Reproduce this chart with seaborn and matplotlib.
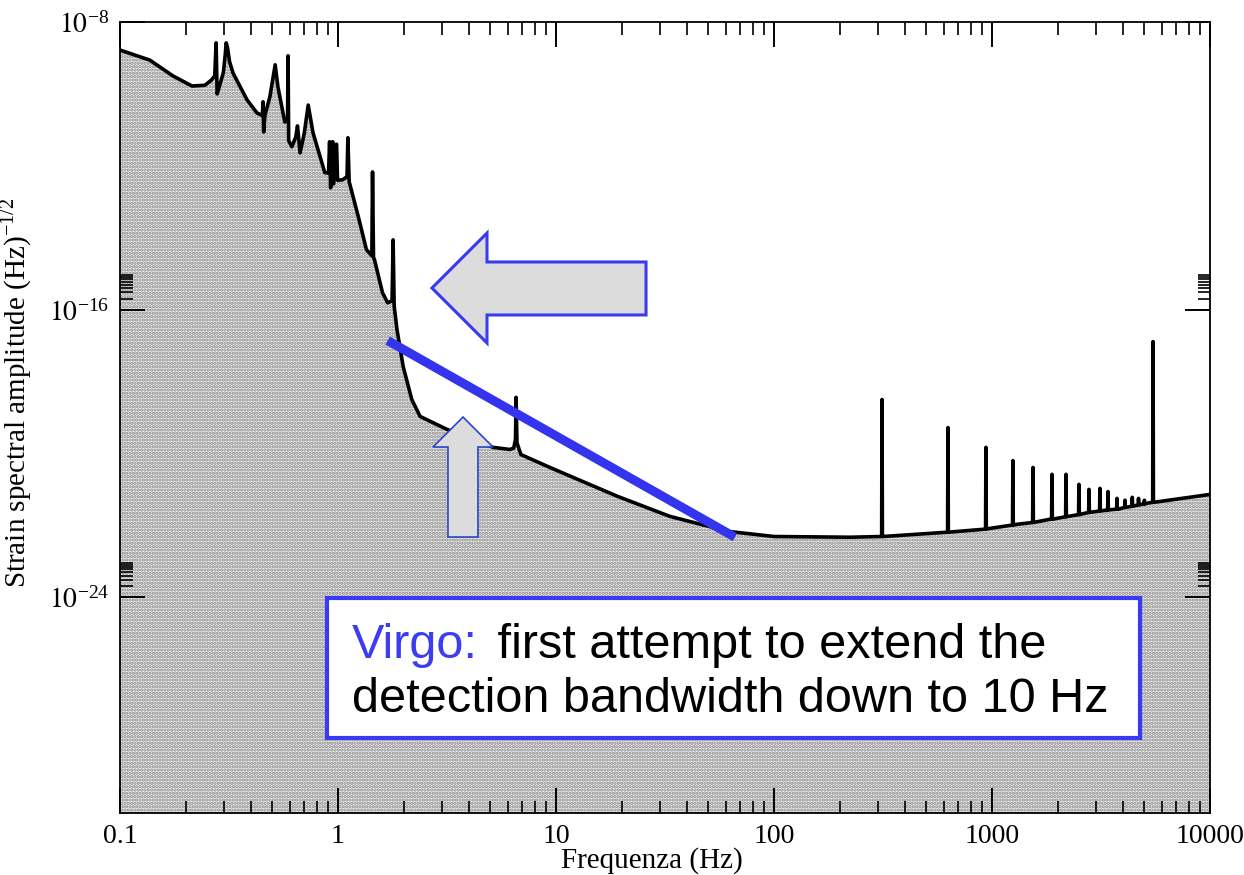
import numpy as np
import pandas as pd
import matplotlib
matplotlib.use("Agg")
import matplotlib.pyplot as plt
import matplotlib.ticker as mticker
from matplotlib.patches import Polygon, Rectangle
import seaborn as sns

# Smooth part of the sensitivity curve: frequency (Hz) and log10 strain amplitude
base_freq = [0.100, 0.137, 0.175, 0.214, 0.245, 0.262, 0.272, 0.276, 0.279, 0.287,
             0.298, 0.304, 0.307, 0.311, 0.318, 0.330, 0.383, 0.425, 0.450, 0.453,
             0.456, 0.462, 0.487, 0.515, 0.530, 0.570, 0.587, 0.590, 0.594, 0.614,
             0.640, 0.652, 0.670, 0.700, 0.730, 0.768, 0.870, 0.905, 0.915, 0.925,
             0.945, 0.955, 0.985, 0.995, 1.05, 1.10, 1.11, 1.125, 1.24, 1.35,
             1.43, 1.44, 1.455, 1.47, 1.60, 1.69, 1.77, 1.79, 1.81, 1.865,
             1.99, 2.18, 2.38, 3.16, 5.14, 6.15, 6.40, 6.52, 6.56, 6.62,
             6.90, 9.38, 19.1, 33.3, 62.0, 100.0, 223.0, 316.0, 622.0, 910.0,
             1303.0, 1845.0, 3800.0, 5305.0, 10000.0]
base_log_asd = [-8.78, -9.06, -9.50, -9.78, -9.76, -9.62, -9.50, -8.58, -10.00, -9.75,
                -9.40, -8.90, -8.58, -8.70, -9.10, -9.42, -10.17, -10.53, -10.60, -10.22,
                -11.06, -10.60, -10.08, -9.19, -9.80, -10.78, -10.75, -8.94, -11.30, -11.47,
                -11.20, -10.89, -11.64, -11.10, -10.31, -11.08, -12.19, -12.20, -11.33, -12.61,
                -11.33, -12.50, -11.40, -12.40, -12.39, -12.30, -11.22, -12.44, -13.42, -14.33,
                -14.50, -12.17, -14.55, -14.61, -15.53, -15.81, -15.75, -14.06, -15.90, -16.56,
                -17.58, -18.50, -18.97, -19.33, -19.83, -19.89, -19.85, -19.60, -18.44, -19.70,
                -20.03, -20.39, -21.19, -21.75, -22.17, -22.31, -22.33, -22.31, -22.19, -22.11,
                -21.97, -21.83, -21.55, -21.37, -21.14]

# Narrow spectral lines (violin modes and harmonics): frequency, floor and peak
line_freq = [313, 628, 938, 1247, 1542, 1884, 2185, 2505, 2786, 3127,
             3405, 3743, 4074, 4400, 4700, 5000, 5480]
line_floor = [-22.31, -22.19, -22.10, -21.99, -21.92, -21.83, -21.76, -21.70, -21.64, -21.60,
              -21.57, -21.55, -21.50, -21.47, -21.43, -21.40, -21.36]
line_peak = [-18.50, -19.28, -19.83, -20.20, -20.39, -20.58, -20.58, -20.86, -21.00, -20.97,
             -21.06, -21.25, -21.30, -21.22, -21.25, -21.30, -16.89]

x_ticks = [0.1, 1, 10, 100, 1000, 10000]
x_tick_labels = ["0.1", "1", "10", "100", "1000", "10000"]
y_ticks = [1e-24, 1e-16, 1e-8]
y_tick_labels = [r"$10^{\mathregular{-24}}$", r"$10^{\mathregular{-16}}$", r"$10^{\mathregular{-8}}$"]

# Build the full curve
rows = list(zip(base_freq, base_log_asd))
for f, lo, hi in zip(line_freq, line_floor, line_peak):
    rows += [(f / 1.004, lo), (f, hi), (f * 1.004, lo)]
df = pd.DataFrame(rows, columns=["freq", "log_asd"]).sort_values("freq")
df["asd"] = 10.0 ** df["log_asd"]

sns.set_theme(style="ticks")
plt.rcParams["font.family"] = ["Liberation Serif", "DejaVu Serif"]
plt.rcParams["mathtext.fontset"] = "stix"
plt.rcParams["hatch.linewidth"] = 1.6

fig = plt.figure(figsize=(12.44, 8.75), dpi=100)
ax = fig.add_axes([120 / 1244, 1 - 813 / 875, 1090 / 1244, 791 / 875])
ax.set_axisbelow(False)

ax.set_xscale("log")
ax.set_yscale("log")
ax.set_xlim(0.1, 1e4)
ax.set_ylim(1e-30, 1e-8)

ax.fill_between(df["freq"], df["asd"], 1e-30, facecolor="#eeeeee",
                edgecolor="#858585", hatch=".....", linewidth=0, zorder=1)
sns.lineplot(data=df, x="freq", y="asd", sort=False, estimator=None,
             color="black", linewidth=2.6, ax=ax, zorder=3)

ax.xaxis.set_major_locator(mticker.FixedLocator(x_ticks))
ax.xaxis.set_major_formatter(mticker.FixedFormatter(x_tick_labels))
ax.xaxis.set_minor_locator(mticker.LogLocator(base=10, subs=np.arange(2, 10)))
ax.xaxis.set_minor_formatter(mticker.NullFormatter())
ax.yaxis.set_major_locator(mticker.FixedLocator(y_ticks))
ax.yaxis.set_major_formatter(mticker.FixedFormatter(y_tick_labels))
y_minor = [k * t for t in (1e-24, 1e-16) for k in range(2, 10)]
ax.yaxis.set_minor_locator(mticker.FixedLocator(y_minor))
ax.yaxis.set_minor_formatter(mticker.NullFormatter())

ax.tick_params(which="major", direction="in", length=18, width=1.4,
               top=True, right=True, labelsize=20, pad=8, colors="black")
ax.tick_params(which="minor", direction="in", length=9, width=1.2,
               top=True, right=True, colors="black")
for s in ax.spines.values():
    s.set_linewidth(1.3)
    s.set_color("black")
    s.set_zorder(4)

ax.set_xlabel("Frequenza (Hz)", fontsize=21, color="black")
ax.set_ylabel(r"Strain spectral amplitude (Hz)$^{\mathregular{-1/2}}$", fontsize=21, color="black")
ax.xaxis.set_label_coords(0.488, -0.043)
ax.yaxis.set_label_coords(-0.079, 0.531)

# Blue slope marking the low-frequency extension
ax.plot([1.69, 66.2], [10 ** -16.86, 10 ** -22.33], color="#3434ee",
        linewidth=6.5, solid_capstyle="butt", zorder=5)

# Arrows (axes fraction coordinates)
left_arrow = [(0.2862, 0.6637), (0.3367, 0.7332), (0.3367, 0.6966), (0.4826, 0.6966),
              (0.4826, 0.6296), (0.3367, 0.6296), (0.3367, 0.5942)]
ax.add_patch(Polygon(left_arrow, closed=True, transform=ax.transAxes,
                     facecolor="#dcdcdc", edgecolor="#3a3af0", linewidth=2.2, zorder=6))
up_arrow = [(0.3147, 0.5006), (0.3422, 0.4627), (0.3284, 0.4627), (0.3284, 0.3489),
            (0.3009, 0.3489), (0.3009, 0.4627), (0.2872, 0.4627)]
ax.add_patch(Polygon(up_arrow, closed=True, transform=ax.transAxes,
                     facecolor="#dcdcdc", edgecolor="#2a46c8", linewidth=1.2, zorder=6))

# Text box
ax.add_patch(Rectangle((0.1899, 0.0948), 0.7459, 0.1770, transform=ax.transAxes,
                       facecolor="white", edgecolor="#3a3af5", linewidth=3, zorder=7))
box_font = dict(family=["Liberation Sans", "DejaVu Sans"], fontsize=35)
t1 = ax.text(0.2128, 0.196, "Virgo:", color="#3c3cf2", transform=ax.transAxes,
             ha="left", va="baseline", zorder=8, **box_font)
ax.annotate(" first attempt to extend the", xy=(1, 0), xycoords=t1,
            xytext=(4, 0), textcoords="offset points",
            ha="left", va="bottom", color="black", zorder=8, **box_font)
ax.text(0.2128, 0.1277, "detection bandwidth down to 10 Hz", color="black",
        transform=ax.transAxes, ha="left", va="baseline", zorder=8, **box_font)

fig.savefig("out.png", dpi=100)
